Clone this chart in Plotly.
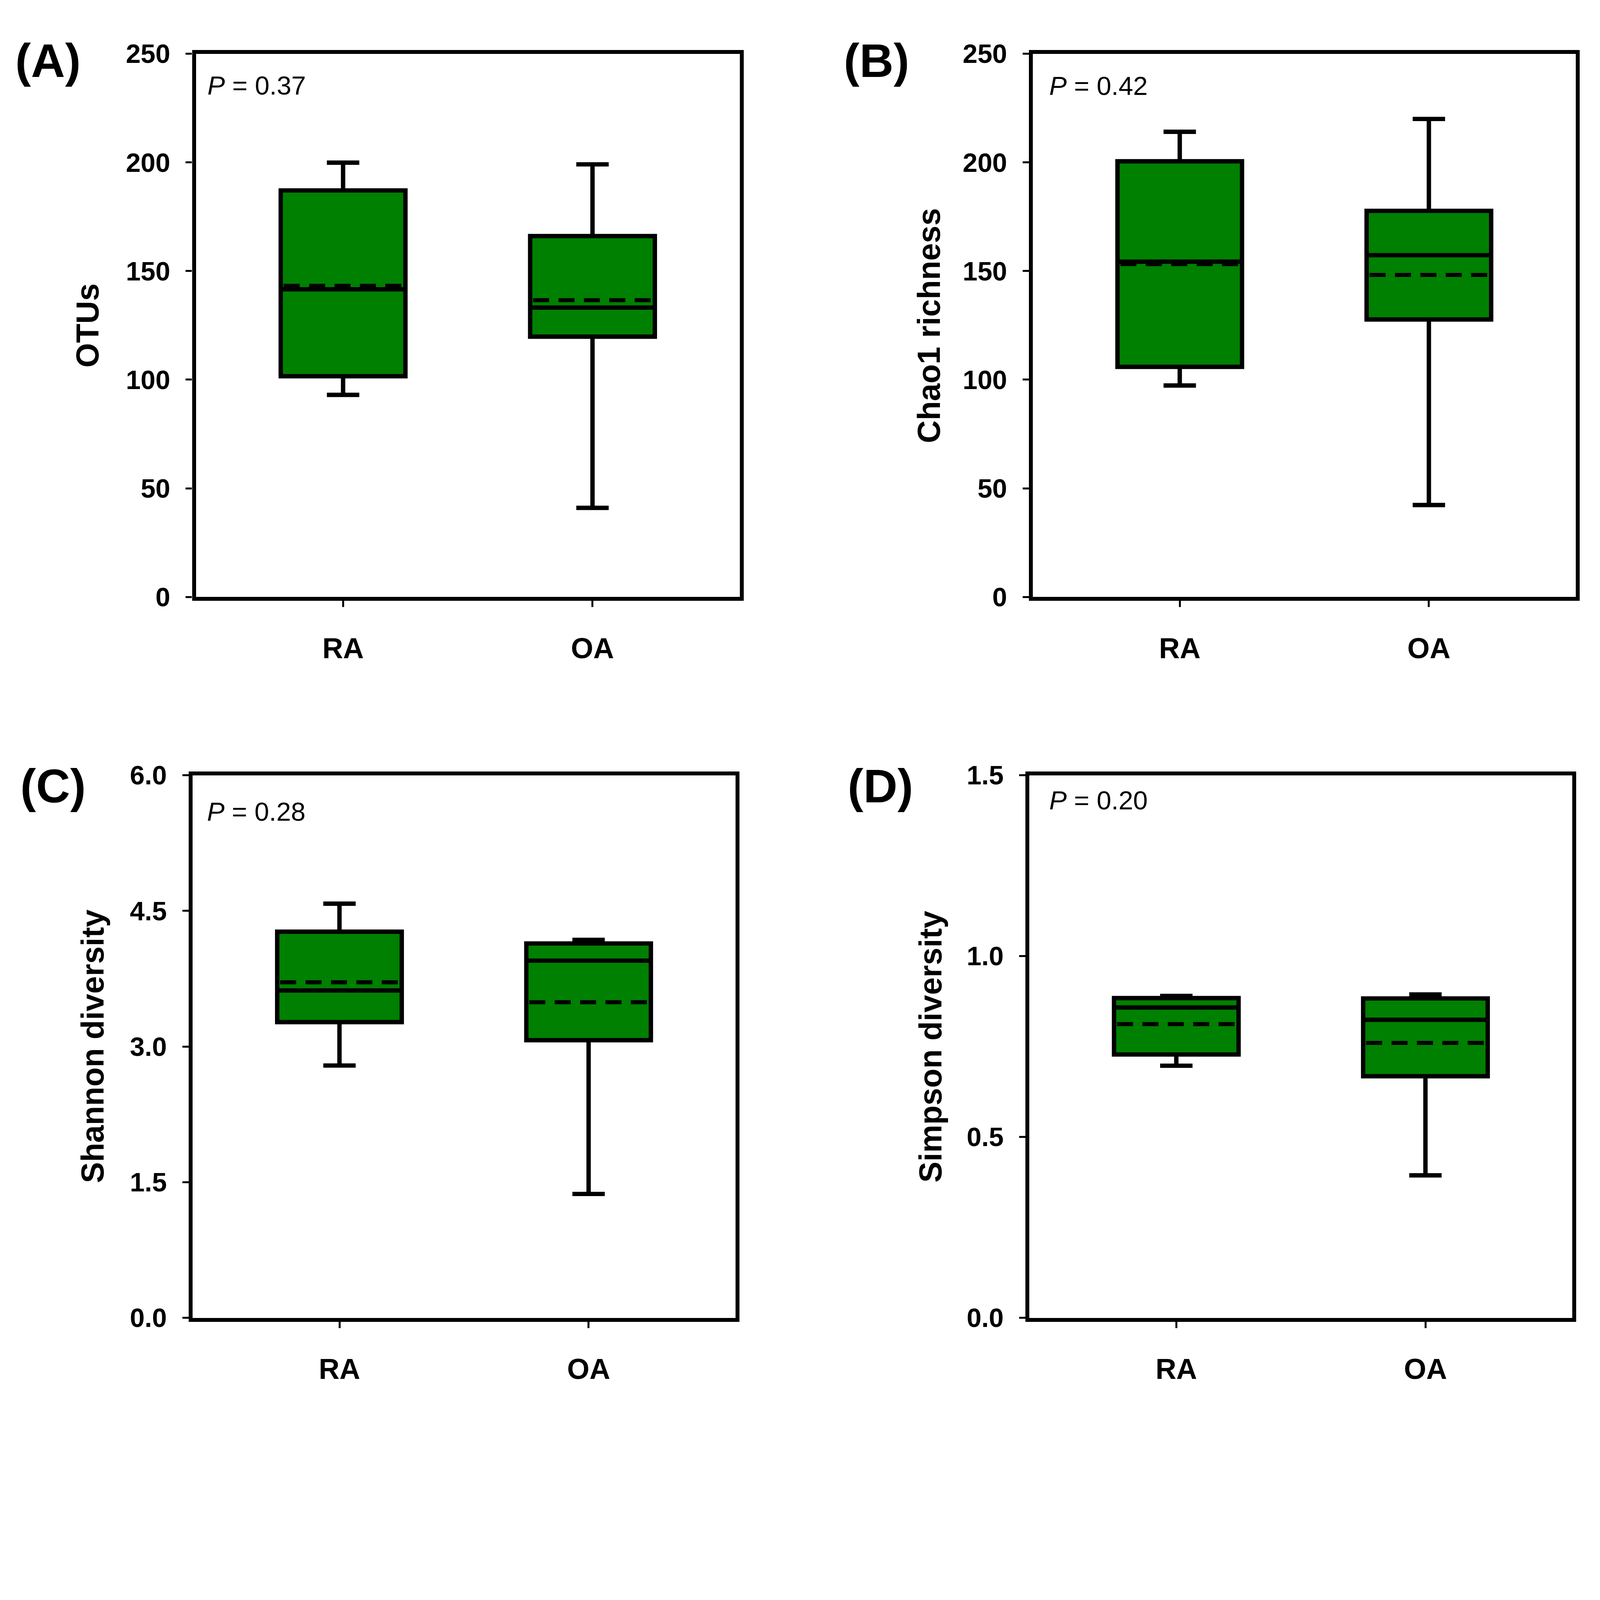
import plotly.graph_objects as go

# groups on the x axis
groups = ["RA", "OA"]
group_pos = [0, 1]

# (A) OTUs
otu_low = [93.0, 41.0]
otu_q1 = [101.6, 119.8]
otu_med = [141.6, 133.2]
otu_q3 = [187.1, 166.1]
otu_high = [199.9, 199.1]
otu_mean = [143.2, 136.6]

# (B) Chao1 richness
chao_low = [97.3, 42.3]
chao_q1 = [105.9, 127.7]
chao_med = [154.3, 157.3]
chao_q3 = [200.5, 177.7]
chao_high = [214.1, 220.0]
chao_mean = [153.2, 148.2]

# (C) Shannon diversity
shan_low = [2.79, 1.37]
shan_q1 = [3.27, 3.07]
shan_med = [3.62, 3.95]
shan_q3 = [4.27, 4.14]
shan_high = [4.58, 4.18]
shan_mean = [3.71, 3.49]

# (D) Simpson diversity
simp_low = [0.697, 0.394]
simp_q1 = [0.728, 0.668]
simp_med = [0.858, 0.824]
simp_q3 = [0.884, 0.883]
simp_high = [0.890, 0.894]
simp_mean = [0.812, 0.760]

p_values = ["0.37", "0.42", "0.28", "0.20"]
y_titles = ["OTUs", "Chao1 richness", "Shannon diversity", "Simpson diversity"]
y_ranges = [(0, 250), (0, 250), (0, 6), (0, 1.5)]
y_dticks = [50, 50, 1.5, 0.5]
y_formats = ["d", "d", ".1f", ".1f"]
letters = ["(A)", "(B)", "(C)", "(D)"]

# layout measured on a 5099 x 4488 canvas, drawn at 0.8 so it fits the 4096px window
RW, RH = 5099, 4488
S = 0.8
W, H = round(RW * S), round(RH * S)
FONT = "Liberation Sans, Arial, sans-serif"
box_w = 0.5

def px(v):
    return round(v * S, 1)

stats = [
    (otu_low, otu_q1, otu_med, otu_q3, otu_high, otu_mean),
    (chao_low, chao_q1, chao_med, chao_q3, chao_high, chao_mean),
    (shan_low, shan_q1, shan_med, shan_q3, shan_high, shan_mean),
    (simp_low, simp_q1, simp_med, simp_q3, simp_high, simp_mean),
]

# inner plot areas on the reference canvas (left, right, top, bottom)
areas = [(617, 2357, 117, 1893), (3295, 5033, 117, 1893),
         (606, 2344, 2476, 4250), (3284, 5022, 2476, 4250)]
# p-value text position inside each panel (axis-domain fractions)
p_pos = [(0.020, 0.942), (0.029, 0.941), (0.025, 0.933), (0.035, 0.954)]
# panel letters (left x, centre y)
letter_pos = [(36, 140), (2688, 140), (52, 2512), (2700, 2512)]
# y title centre x
ytitle_x = [270, 2962, 287, 2968]

fig = go.Figure()
layout = {}
annotations = []

for i in range(4):
    n = "" if i == 0 else str(i + 1)
    xa, ya = "x" + n, "y" + n
    lo, q1, med, q3, hi, mn = stats[i]
    l, r, t, b = areas[i]

    fig.add_trace(go.Box(x=group_pos, q1=q1, median=med, q3=q3,
                         lowerfence=lo, upperfence=hi,
                         width=box_w, whiskerwidth=0.26,
                         fillcolor="#008000", line=dict(color="black", width=px(14)),
                         boxpoints=False, showlegend=False, hoverinfo="skip",
                         xaxis=xa, yaxis=ya))

    # dashed mean lines across each box
    mx, my = [], []
    for p, m in zip(group_pos, mn):
        mx += [p - box_w / 2 + 0.012, p + box_w / 2 - 0.012, None]
        my += [m, m, None]
    fig.add_trace(go.Scatter(x=mx, y=my, mode="lines",
                             line=dict(color="black", width=px(13),
                                       dash="%dpx,%dpx" % (px(52), px(30))),
                             showlegend=False, hoverinfo="skip",
                             xaxis=xa, yaxis=ya))

    layout["xaxis" + n] = dict(
        domain=[l / RW, r / RW], anchor=ya, range=[-0.59, 1.59],
        tickmode="array", tickvals=group_pos, ticktext=groups,
        ticks="outside", ticklen=px(20), tickwidth=px(6), tickcolor="black",
        showline=True, linewidth=px(13), linecolor="black", mirror=True,
        showgrid=False, zeroline=False,
        tickfont=dict(family=FONT, size=px(92), color="black", weight="bold"),
        ticklabelstandoff=round(px(52)))
    layout["yaxis" + n] = dict(
        domain=[1 - b / RH, 1 - t / RH], anchor=xa, range=list(y_ranges[i]),
        tickmode="linear", tick0=0, dtick=y_dticks[i], tickformat=y_formats[i],
        ticks="outside", ticklen=px(20), tickwidth=px(6), tickcolor="black",
        showline=True, linewidth=px(13), linecolor="black", mirror=True,
        showgrid=False, zeroline=False,
        tickfont=dict(family=FONT, size=px(85), color="black", weight="bold"),
        ticklabelstandoff=round(px(33)))

    annotations.append(dict(
        text="<i>P</i> = " + p_values[i], xref=xa + " domain", yref=ya + " domain",
        x=p_pos[i][0], y=p_pos[i][1], xanchor="left", yanchor="middle",
        showarrow=False, font=dict(family=FONT, size=px(84), color="black")))
    annotations.append(dict(
        text=letters[i], xref="paper", yref="paper",
        x=letter_pos[i][0] / RW, y=1 - letter_pos[i][1] / RH,
        xanchor="left", yanchor="middle", showarrow=False,
        font=dict(family=FONT, size=px(151), color="black", weight="bold")))
    annotations.append(dict(
        text=y_titles[i], xref="paper", yref="paper", textangle=-90,
        x=ytitle_x[i] / RW, y=1 - (t + b) / 2 / RH,
        xanchor="center", yanchor="middle", showarrow=False,
        font=dict(family=FONT, size=px(101), color="black", weight="bold")))

fig.update_layout(**layout)
fig.update_layout(
    annotations=annotations,
    width=W, height=H,
    margin=dict(l=0, r=0, t=0, b=0),
    paper_bgcolor="white", plot_bgcolor="white",
    font=dict(family=FONT, color="black"),
)

fig.write_html("out.html")
